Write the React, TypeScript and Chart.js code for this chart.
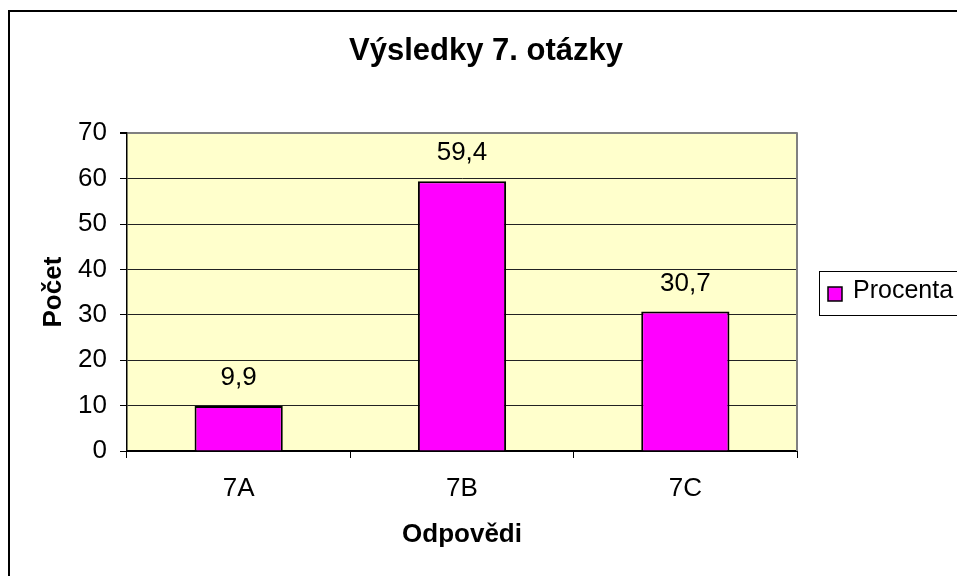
import React, { useEffect, useRef } from 'react';
import { Chart, registerables } from 'chart.js';

Chart.register(...registerables);

const categories = ['7A', '7B', '7C'];
const percentValues = [9.9, 59.4, 30.7];
const valueLabels = ['9,9', '59,4', '30,7'];
const yTicks = [0, 10, 20, 30, 40, 50, 60, 70];
const seriesName = 'Procenta';
const chartTitle = 'Výsledky 7. otázky';
const xTitle = 'Odpovědi';
const yTitle = 'Počet';

const FONT = "'Liberation Sans', Arial, sans-serif";
const W = 957;
const H = 576;

const decorPlugin = {
  id: 'decor',
  beforeDraw(chart: any) {
    const { ctx, chartArea } = chart;
    ctx.save();
    ctx.fillStyle = '#ffffff';
    ctx.fillRect(0, 0, W, H);
    ctx.strokeStyle = '#000000';
    ctx.lineWidth = 2;
    ctx.strokeRect(9, 11, 2000, 2000);
    ctx.fillStyle = '#FFFFCC';
    ctx.fillRect(chartArea.left, chartArea.top, chartArea.right - chartArea.left, chartArea.bottom - chartArea.top);
    ctx.restore();
  },
  afterDatasetsDraw(chart: any) {
    const { ctx } = chart;
    const meta = chart.getDatasetMeta(0);
    ctx.save();
    ctx.font = `26px ${FONT}`;
    ctx.fillStyle = '#000';
    ctx.textAlign = 'center';
    ctx.textBaseline = 'middle';
    meta.data.forEach((bar: any, i: number) => {
      ctx.fillText(valueLabels[i], bar.x, bar.y - 28);
    });
    ctx.restore();
  },
  afterDraw(chart: any) {
    const { ctx, chartArea } = chart;
    ctx.save();
    // plot area right border
    ctx.strokeStyle = '#808080';
    ctx.lineWidth = 2;
    ctx.beginPath();
    ctx.moveTo(chartArea.right, chartArea.top - 1);
    ctx.lineTo(chartArea.right, chartArea.bottom);
    ctx.stroke();
    // legend
    const lx = 819.5;
    const ly = 271.5;
    ctx.fillStyle = '#ffffff';
    ctx.fillRect(lx, ly, 300, 44);
    ctx.strokeStyle = '#000';
    ctx.lineWidth = 1;
    ctx.strokeRect(lx, ly, 300, 44);
    const ds = chart.data.datasets[0];
    ctx.fillStyle = ds.backgroundColor;
    ctx.fillRect(828, 287, 14, 14);
    ctx.lineWidth = 1.5;
    ctx.strokeRect(828, 287, 14, 14);
    ctx.fillStyle = '#000';
    ctx.font = `25px ${FONT}`;
    ctx.textAlign = 'left';
    ctx.textBaseline = 'middle';
    ctx.fillText(ds.label, 853, 291);
    ctx.restore();
  },
};

export default function App() {
  const canvasRef = useRef<HTMLCanvasElement | null>(null);

  useEffect(() => {
    const canvas = canvasRef.current;
    if (!canvas) return;
    const chart = new Chart(canvas, {
      type: 'bar',
      data: {
        labels: categories,
        datasets: [
          {
            label: seriesName,
            data: percentValues,
            backgroundColor: '#FF00FF',
            borderColor: '#000000',
            borderWidth: 2,
            barPercentage: 0.395,
            categoryPercentage: 1,
          },
        ],
      },
      options: {
        responsive: false,
        animation: false,
        devicePixelRatio: 1,
        layout: { padding: { left: 15, right: 0, top: 0, bottom: 0 } },
        plugins: {
          legend: { display: false },
          tooltip: { enabled: false },
          title: {
            display: true,
            text: chartTitle,
            color: '#000',
            font: { family: FONT, size: 31, weight: 'bold' },
            padding: { top: 33, bottom: 63 },
          },
        },
        scales: {
          x: {
            afterFit(scale: any) {
              scale.height = 125;
            },
            grid: {
              display: true,
              drawOnChartArea: false,
              drawTicks: true,
              tickLength: 7,
              color: '#000',
              offset: true,
            },
            border: { display: true, color: '#000', width: 2 },
            ticks: {
              color: '#000',
              font: { family: FONT, size: 26 },
              padding: 15,
              maxRotation: 0,
            },
            title: {
              display: true,
              text: xTitle,
              color: '#000',
              font: { family: FONT, size: 26, weight: 'bold' },
              padding: { top: 0, bottom: 26 },
            },
          },
          y: {
            min: yTicks[0],
            max: yTicks[yTicks.length - 1],
            afterFit(scale: any) {
              scale.width = 112;
            },
            afterBuildTicks(scale: any) {
              scale.ticks = yTicks.map((v) => ({ value: v }));
            },
            grid: {
              color: (ctx: any) => (ctx.tick && ctx.tick.value === yTicks[yTicks.length - 1] ? '#808080' : '#222'),
              lineWidth: (ctx: any) => (ctx.tick && ctx.tick.value === yTicks[yTicks.length - 1] ? 2 : 1),
              tickColor: '#000',
              tickLength: 7,
              drawTicks: true,
            },
            border: { display: true, color: '#000', width: 1.5 },
            ticks: {
              color: '#000',
              font: { family: FONT, size: 26 },
              padding: 13,
              callback: (v: any) => String(v),
            },
            title: {
              display: true,
              text: yTitle,
              color: '#000',
              font: { family: FONT, size: 26, weight: 'bold' },
              padding: { top: 23, bottom: 0 },
            },
          },
          spacer: {
            type: 'linear',
            position: 'right',
            display: true,
            afterFit(scale: any) {
              scale.width = 160;
            },
            grid: { display: false, drawTicks: false },
            border: { display: false },
            ticks: { display: false },
            title: { display: false },
          },
        },
      },
      plugins: [decorPlugin],
    } as any);
    return () => chart.destroy();
  }, []);

  return (
    <div style={{ position: 'absolute', left: 0, top: 0, width: W, height: H }}>
      <canvas ref={canvasRef} width={W} height={H} style={{ display: 'block', width: W, height: H }} />
    </div>
  );
}
